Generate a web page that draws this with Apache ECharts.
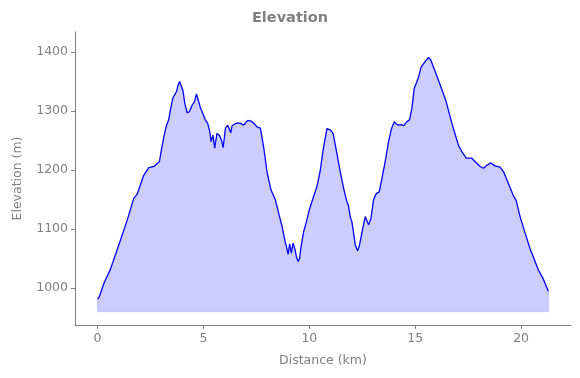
<!DOCTYPE html>
<html>
<head>
<meta charset="utf-8">
<script src="https://cdn.jsdelivr.net/npm/echarts@6/dist/echarts.min.js"></script>
<style>
html,body{margin:0;padding:0;background:#fff;}
#chart{width:580px;height:378px;}
</style>
</head>
<body>
<div id="chart"></div>
<script>
const distances = [0, 0.08, 0.3, 0.61, 1.08, 1.4, 1.71, 1.87, 2.18, 2.42, 2.66, 2.81, 2.92, 3.0, 3.13, 3.25, 3.36, 3.44, 3.55, 3.63, 3.73, 3.8, 3.88, 3.96, 4.04, 4.12, 4.23, 4.34, 4.47, 4.58, 4.67, 4.73, 4.86, 4.98, 5.09, 5.2, 5.3, 5.36, 5.45, 5.53, 5.64, 5.75, 5.85, 5.93, 6.04, 6.15, 6.23, 6.29, 6.35, 6.59, 6.75, 6.9, 7.09, 7.25, 7.41, 7.53, 7.69, 7.85, 8.0, 8.19, 8.4, 8.55, 8.71, 8.84, 8.92, 9.0, 9.07, 9.15, 9.23, 9.31, 9.39, 9.47, 9.54, 9.61, 9.73, 9.86, 10.01, 10.2, 10.36, 10.52, 10.65, 10.83, 10.99, 11.12, 11.27, 11.46, 11.62, 11.75, 11.85, 11.93, 12.01, 12.09, 12.17, 12.28, 12.37, 12.49, 12.64, 12.72, 12.8, 12.91, 13.03, 13.16, 13.3, 13.43, 13.58, 13.74, 13.87, 14.01, 14.1, 14.21, 14.34, 14.45, 14.53, 14.61, 14.73, 14.84, 14.95, 15.08, 15.16, 15.27, 15.36, 15.47, 15.63, 15.74, 15.94, 16.18, 16.46, 16.73, 17.04, 17.2, 17.41, 17.67, 17.83, 18.07, 18.22, 18.38, 18.57, 18.77, 19.01, 19.17, 19.4, 19.64, 19.76, 19.95, 20.19, 20.42, 20.66, 20.81, 21.05, 21.29];
const elevations = [981, 985, 1008, 1032, 1081, 1115, 1152, 1159, 1191, 1204, 1206, 1211, 1214, 1231, 1256, 1275, 1285, 1302, 1321, 1327, 1333, 1344, 1350, 1350, 1333, 1313, 1297, 1299, 1310, 1316, 1329, 1327, 1305, 1295, 1285, 1279, 1265, 1248, 1259, 1237, 1262, 1259, 1251, 1238, 1271, 1276, 1273, 1263, 1275, 1280, 1279, 1276, 1284, 1283, 1278, 1273, 1271, 1237, 1197, 1166, 1149, 1127, 1105, 1081, 1070, 1057, 1075, 1059, 1076, 1067, 1053, 1045, 1050, 1070, 1095, 1112, 1134, 1155, 1172, 1200, 1234, 1270, 1268, 1262, 1234, 1197, 1169, 1149, 1139, 1121, 1112, 1093, 1073, 1063, 1073, 1095, 1121, 1120, 1107, 1118, 1149, 1160, 1163, 1186, 1214, 1248, 1269, 1282, 1278, 1276, 1277, 1275, 1278, 1282, 1285, 1304, 1338, 1350, 1358, 1374, 1372, 1384, 1391, 1386, 1367, 1344, 1316, 1279, 1242, 1231, 1220, 1220, 1214, 1206, 1203, 1208, 1212, 1207, 1205, 1197, 1177, 1156, 1149, 1121, 1093, 1067, 1045, 1031, 1015, 994];
const xTicks = [0, 5, 10, 15, 20];
const yTicks = [1000, 1100, 1200, 1300, 1400];
const fillBase = 960;

const lineData = distances.map((d, i) => [d, elevations[i]]);
const last = distances.length - 1;
const edgeData = [[distances[last], elevations[last]], [distances[last], fillBase], [distances[0], fillBase], [distances[0], elevations[0]]];
const gray = '#808080';
const font = 'DejaVu Sans';

const chart = echarts.init(document.getElementById('chart'), null, {renderer: 'canvas'});
chart.setOption({
  animation: false,
  title: {
    text: 'Elevation', left: 'center', top: 6,
    textStyle: {color: gray, fontFamily: font, fontWeight: 'bold', fontSize: 14.5}
  },
  grid: {left: 75, right: 9, top: 32, bottom: 53, containLabel: false},
  xAxis: {
    type: 'value', min: -1.065, max: 22.355,
    name: 'Distance (km)', nameLocation: 'middle', nameGap: 29,
    nameTextStyle: {color: gray, fontFamily: font, fontSize: 12.5},
    axisLine: {show: true, onZero: false, lineStyle: {color: gray, width: 1}},
    axisTick: {show: true, length: 4, lineStyle: {color: gray}, customValues: xTicks},
    axisLabel: {color: gray, fontFamily: font, fontSize: 12.5, margin: 7, customValues: xTicks,
      formatter: v => String(v)},
    splitLine: {show: false}
  },
  yAxis: {
    type: 'value', min: 937.3, max: 1433.9,
    name: 'Elevation (m)', nameLocation: 'middle', nameGap: 51,
    nameTextStyle: {color: gray, fontFamily: font, fontSize: 12.5},
    axisLine: {show: true, onZero: false, lineStyle: {color: gray, width: 1}},
    axisTick: {show: true, length: 4, lineStyle: {color: gray}, customValues: yTicks},
    axisLabel: {color: gray, fontFamily: font, fontSize: 12.5, margin: 7, customValues: yTicks,
      formatter: v => String(v)},
    splitLine: {show: false}
  },
  series: [
    {
      type: 'line', data: lineData, showSymbol: false, symbol: 'none',
      lineStyle: {color: '#0000ff', width: 1.3},
      areaStyle: {color: '#ccccff', opacity: 1, origin: fillBase},
      z: 3
    },
    {
      type: 'line', data: edgeData, showSymbol: false, symbol: 'none',
      lineStyle: {color: 'rgba(0,0,255,0.12)', width: 1.5},
      z: 4
    }
  ]
});
</script>
</body>
</html>
